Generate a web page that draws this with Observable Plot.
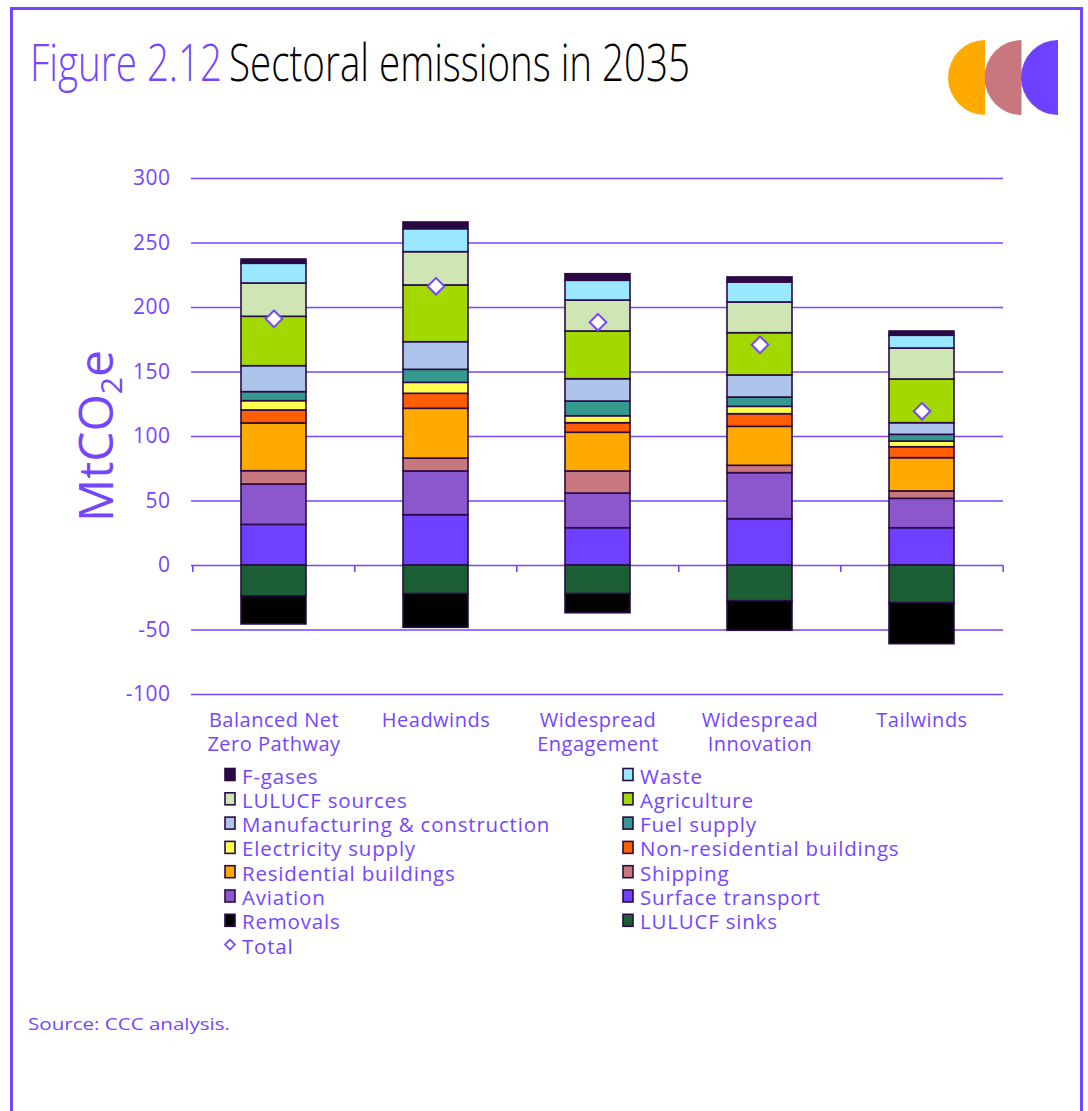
<!DOCTYPE html>
<html>
<head>
<meta charset="utf-8">
<script src="https://cdn.jsdelivr.net/npm/d3@7"></script>
<script src="https://cdn.jsdelivr.net/npm/@observablehq/plot@0.6"></script>
<style>
  html, body { margin: 0; padding: 0; background: #fff; }
  #page { position: relative; width: 1088px; height: 1111px; overflow: hidden; background: #fff; font-family: "Open Sans", sans-serif; }
  #frame { position: absolute; left: 10px; top: 7px; width: 1073px; height: 1120px; border: 3px solid #7446ff; box-sizing: border-box; }
  #chart { position: absolute; left: 0; top: 0; }
  #overlay { position: absolute; left: 0; top: 0; pointer-events: none; }
</style>
</head>
<body>
<div id="page">
  <div id="frame"></div>
  <div id="chart"></div>
  <svg id="overlay" width="1088" height="1111"></svg>
</div>
<script>
// ---------- data ----------
const scenarios = ["Balanced Net Zero Pathway", "Headwinds", "Widespread Engagement", "Widespread Innovation", "Tailwinds"];
const scenarioLabels = ["Balanced Net\nZero Pathway", "Headwinds", "Widespread\nEngagement", "Widespread\nInnovation", "Tailwinds"];

// stack order, from the zero line outward
const sectors = ["Surface transport", "Aviation", "Shipping", "Residential buildings", "Non-residential buildings",
  "Electricity supply", "Fuel supply", "Manufacturing & construction", "Agriculture", "LULUCF sources",
  "Waste", "F-gases", "LULUCF sinks", "Removals"];
const sectorColors = ["#7040ff", "#8a57cc", "#c8777f", "#ffaa00", "#ff5f00",
  "#ffff4d", "#35998f", "#adc5ea", "#a3d900", "#cfe6b4",
  "#99e8ff", "#2a0845", "#1c5e34", "#000000"];

// MtCO2e, one value per scenario
const surfaceTransport = [31.5, 39.0, 28.9, 35.9, 28.9];
const aviation         = [31.3, 33.9, 26.9, 35.7, 22.8];
const shipping         = [10.3, 10.0, 17.1, 5.7, 5.7];
const residential      = [37.0, 38.6, 30.0, 30.2, 25.8];
const nonResidential   = [10.1, 11.6, 7.4, 9.8, 8.5];
const electricity      = [7.2, 8.5, 5.4, 5.7, 4.4];
const fuelSupply       = [7.0, 10.1, 11.4, 7.2, 5.2];
const manufacturing    = [20.1, 21.4, 17.3, 17.1, 9.0];
const agriculture      = [38.3, 44.0, 37.0, 32.8, 33.9];
const lulucfSources    = [25.8, 25.8, 24.0, 23.8, 24.0];
const waste            = [15.3, 17.8, 15.3, 15.5, 9.9];
const fGases           = [3.3, 5.2, 5.1, 3.9, 3.3];
const lulucfSinks      = [-24.0, -22.2, -22.2, -27.7, -29.2];
const removals         = [-21.7, -26.1, -14.8, -22.9, -31.8];
const total            = [191.2, 216.5, 188.6, 171.1, 119.6];

const yTicks = [-100, -50, 0, 50, 100, 150, 200, 250, 300];

const legendLeft  = ["F-gases", "LULUCF sources", "Manufacturing & construction", "Electricity supply", "Residential buildings", "Aviation", "Removals", "Total"];
const legendRight = ["Waste", "Agriculture", "Fuel supply", "Non-residential buildings", "Shipping", "Surface transport", "LULUCF sinks"];

// ---------- build table ----------
const seriesValues = [surfaceTransport, aviation, shipping, residential, nonResidential, electricity, fuelSupply,
  manufacturing, agriculture, lulucfSources, waste, fGases, lulucfSinks, removals];
const rows = [];
sectors.forEach((s, j) => scenarios.forEach((sc, i) => rows.push({scenario: sc, sector: s, value: seriesValues[j][i]})));
const totals = scenarios.map((sc, i) => ({scenario: sc, value: total[i]}));
const labelOf = new Map(scenarios.map((s, i) => [s, scenarioLabels[i]]));

// ---------- style ----------
const purple = "#7446ff";
const outline = "#2a0b45";
const W = 1088, H = 780, mL = 191, mR = 85, mT = 178, mB = 86;
const step = (W - mL - mR) / scenarios.length;

const chart = Plot.plot({
  width: W, height: H,
  marginTop: mT, marginBottom: mB, marginLeft: mL, marginRight: mR,
  style: {background: "transparent", fontFamily: "Open Sans, sans-serif", overflow: "visible"},
  x: {domain: scenarios, paddingInner: 0.6, paddingOuter: 0.3, axis: null},
  y: {domain: [-100, 300], axis: null},
  color: {domain: sectors, range: sectorColors},
  marks: [
    Plot.ruleY(yTicks, {y: d => d, stroke: purple, strokeWidth: 1.6}),
    Plot.ruleX(scenarios, {x: d => d, y1: 0, y2: -5.4, dx: -step / 2, stroke: purple, strokeWidth: 1.6}),
    Plot.ruleX(scenarios.slice(-1), {x: d => d, y1: 0, y2: -5.4, dx: step / 2, stroke: purple, strokeWidth: 1.6}),
    Plot.barY(rows, Plot.stackY({
      x: "scenario", y: "value", z: "sector", fill: "sector", order: sectors,
      stroke: outline, strokeWidth: 1.6
    })),
    Plot.dot(totals, {x: "scenario", y: "value", symbol: "diamond2", r: 7.5, fill: "white", stroke: purple, strokeWidth: 2}),
    Plot.axisY(yTicks, {tickSize: 0, tickPadding: 21, fontSize: 21, fill: purple, label: null, tickFormat: d => String(d)}),
    Plot.axisX({tickSize: 0, tickPadding: 15, fontSize: 20, lineHeight: 1.2, fill: purple, label: null,
      tickFormat: d => labelOf.get(d), lineAnchor: "top"})
  ]
});
chart.querySelectorAll("text").forEach(t => t.style.letterSpacing = "0.5px");
document.getElementById("chart").appendChild(chart);

// ---------- overlay: title, logo, y label, legend, source ----------
const svg = d3.select("#overlay");

// title: tall, condensed lettering (font scaled vertically)
const titleScaleY = 1.34;
svg.append("text")
  .attr("transform", `translate(30,81) scale(1,${titleScaleY})`)
  .attr("font-family", "Open Sans, sans-serif").attr("font-size", 38).attr("font-weight", 300)
  .attr("textLength", 192).attr("lengthAdjust", "spacingAndGlyphs")
  .attr("fill", purple).text("Figure 2.12");
svg.append("text")
  .attr("transform", `translate(229,81) scale(1,${titleScaleY})`)
  .attr("font-family", "Open Sans, sans-serif").attr("font-size", 38).attr("font-weight", 300)
  .attr("textLength", 461).attr("lengthAdjust", "spacingAndGlyphs")
  .attr("fill", "#000").text("Sectoral emissions in 2035");

// logo: three half discs
const logo = [["#ffaa00", 985], ["#c8777f", 1021.5], ["#7040ff", 1058]];
logo.forEach(([c, xr]) => {
  svg.append("path")
    .attr("d", `M${xr},40 A37,37.5 0 0,0 ${xr},115 Z`)
    .attr("fill", c);
});

// y axis label
const yl = svg.append("text")
  .attr("transform", "translate(113,436) rotate(-90)")
  .attr("text-anchor", "middle")
  .attr("font-family", "Open Sans, sans-serif").attr("font-size", 48)
  .attr("fill", purple);
yl.append("tspan").text("MtCO");
yl.append("tspan").attr("font-size", 30).attr("dy", 9).text("2");
yl.append("tspan").attr("dy", -9).text("e");

// legend
const colorOf = new Map(sectors.map((s, i) => [s, sectorColors[i]]));
const rowY = i => 783.5 + i * 24.3;
function legendItem(name, x, i) {
  const y = rowY(i);
  if (name === "Total") {
    svg.append("path")
      .attr("d", `M${x + 5},${y - 14} L${x + 10},${y - 9} L${x + 5},${y - 4} L${x},${y - 9} Z`)
      .attr("fill", "white").attr("stroke", purple).attr("stroke-width", 1.6);
  } else {
    svg.append("rect").attr("x", x).attr("y", y - 15).attr("width", 10).attr("height", 12)
      .attr("fill", colorOf.get(name)).attr("stroke", outline).attr("stroke-width", 1.6);
  }
  svg.append("text").attr("x", x + 17).attr("y", y)
    .attr("font-family", "Open Sans, sans-serif").attr("font-size", 20.5)
    .attr("letter-spacing", "0.8px")
    .attr("fill", purple).text(name);
}
legendLeft.forEach((n, i) => legendItem(n, 225, i));
legendRight.forEach((n, i) => legendItem(n, 623, i));

// source
svg.append("text").attr("x", 28).attr("y", 1030)
  .attr("font-family", "Open Sans, sans-serif").attr("font-size", 17)
  .attr("textLength", 202).attr("lengthAdjust", "spacingAndGlyphs")
  .attr("fill", purple).text("Source: CCC analysis.");
</script>
</body>
</html>
